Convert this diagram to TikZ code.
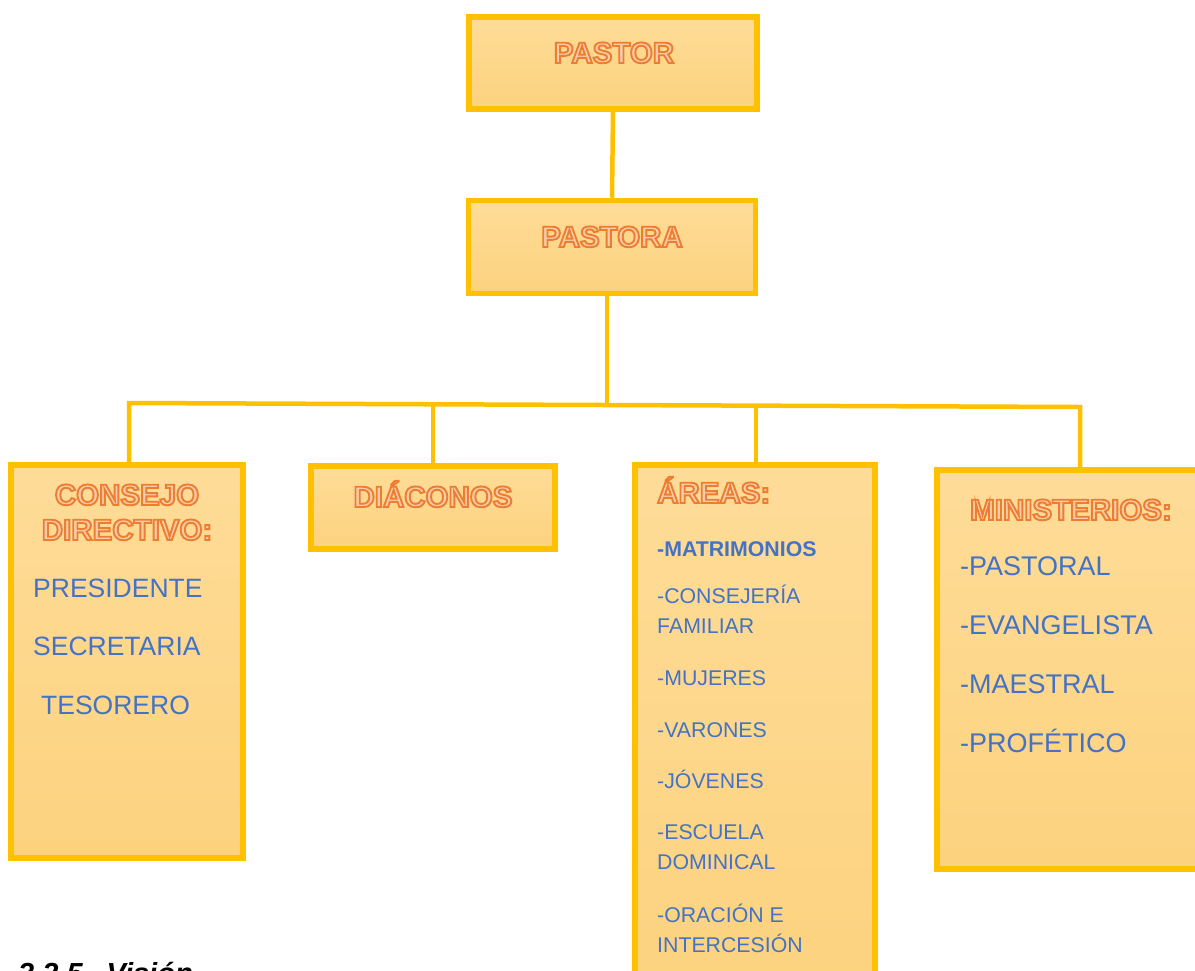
\documentclass[tikz,border=0pt]{standalone}
\usepackage{fontspec}
\setmainfont{Liberation Sans}
\usepackage{xcolor}
\usepackage{tikz}
\usetikzlibrary{positioning}

\definecolor{boxtop}{RGB}{254,220,152}
\definecolor{boxbot}{RGB}{252,210,126}
\definecolor{boxline}{RGB}{255,192,0}
\definecolor{ttlorange}{RGB}{237,125,49}
\definecolor{itemblue}{RGB}{68,114,196}

% outlined orange title letters
\newcommand{\outlined}[1]{{\color{ttlorange}\special{pdf:literal direct 2 Tr 1.9 w 0.97 0.80 0.68 rg}#1\special{pdf:literal direct 0 Tr}}}

\begin{document}
\begin{tikzpicture}[x=1pt, y=-1pt,
    box/.style={rectangle, draw=boxline, line width=5.5pt, top color=boxtop, bottom color=boxbot, inner sep=0pt},
    link/.style={draw=boxline, line width=4.5pt},
    title/.style={font=\fontsize{29.5}{35}\selectfont\bfseries, inner sep=0pt, align=center},
    item/.style={font=\fontsize{26.5}{58.5}\selectfont, text=itemblue, inner sep=0pt, align=left}
]
    \useasboundingbox (0,0) rectangle (1195,970);

    % Pastor
    \node[box, minimum width=288pt, minimum height=92pt] (pastor) at (613,63) {};
    \node[title, anchor=base] (pastorttl) at (614,63) {\outlined{PASTOR}};

    % Pastora
    \node[box, minimum width=287pt, minimum height=93pt] (pastora) at (612,247) {};
    \node[title, anchor=base] (pastorattl) at (612,247) {\outlined{PASTORA}};

    % Consejo directivo
    \node[box, minimum width=232pt, minimum height=393pt] (consejo) at (127,661.5) {};
    \node[title, anchor=base] (consejottl) at (127,540) {\outlined{CONSEJO}\\\outlined{DIRECTIVO:}};
    \node[item, anchor=base west] (consejolist) at (33,714) {PRESIDENTE\\SECRETARIA\\\hspace*{8pt}TESORERO};

    % Diaconos
    \node[box, minimum width=244pt, minimum height=83pt] (diaconos) at (433,507.5) {};
    \node[title, anchor=base] (diaconosttl) at (433,507) {\outlined{DIÁCONOS}};

    % Areas
    \node[box, minimum width=240pt, minimum height=535pt] (areas) at (755,732.5) {};
    \node[title, anchor=base west] (areasttl) at (657,503) {\outlined{ÁREAS:}};
    \node[item, anchor=base west, font=\fontsize{21.3}{30}\selectfont] (areaslist) at (657,952)
        {\textbf{-MATRIMONIOS}\\[17pt]-CONSEJERÍA\\FAMILIAR\\[22pt]-MUJERES\\[22pt]-VARONES\\[21pt]-JÓVENES\\[21pt]-ESCUELA\\DOMINICAL\\[23pt]-ORACIÓN E\\INTERCESIÓN};

    % Ministerios
    \node[box, minimum width=280pt, minimum height=399pt] (minist) at (1077,669.5) {};
    \node[title, anchor=base] (ministttl) at (1071,520) {\outlined{MINISTERIOS:}};
    \node[item, anchor=base west, font=\fontsize{27}{58.7}\selectfont] (ministlist) at (960,752) {-PASTORAL\\-EVANGELISTA\\-MAESTRAL\\-PROFÉTICO};

    % Connectors
    \coordinate (barl) at (129,403);
    \coordinate (barm) at (607,405);
    \coordinate (bard) at (433,404.5);
    \coordinate (bara) at (756,405.5);
    \coordinate (barr) at (1080,407);
    \draw[link] (pastor.south) -- (pastora.north);
    \draw[link] (pastora.south -| barm) -- (barm);
    \draw[link] (barl |- consejo.north) -- (barl) -- (barr) -- (barr |- minist.north);
    \draw[link] (bard) -- (bard |- diaconos.north);
    \draw[link] (bara) -- (bara |- areas.north);

    % Heading below
    \node[anchor=base west, inner sep=0pt, font=\fontsize{29}{32}\selectfont\bfseries\itshape] (vision) at (18,983) {3.2.5.\hspace{16pt}Visión};
\end{tikzpicture}
\end{document}
